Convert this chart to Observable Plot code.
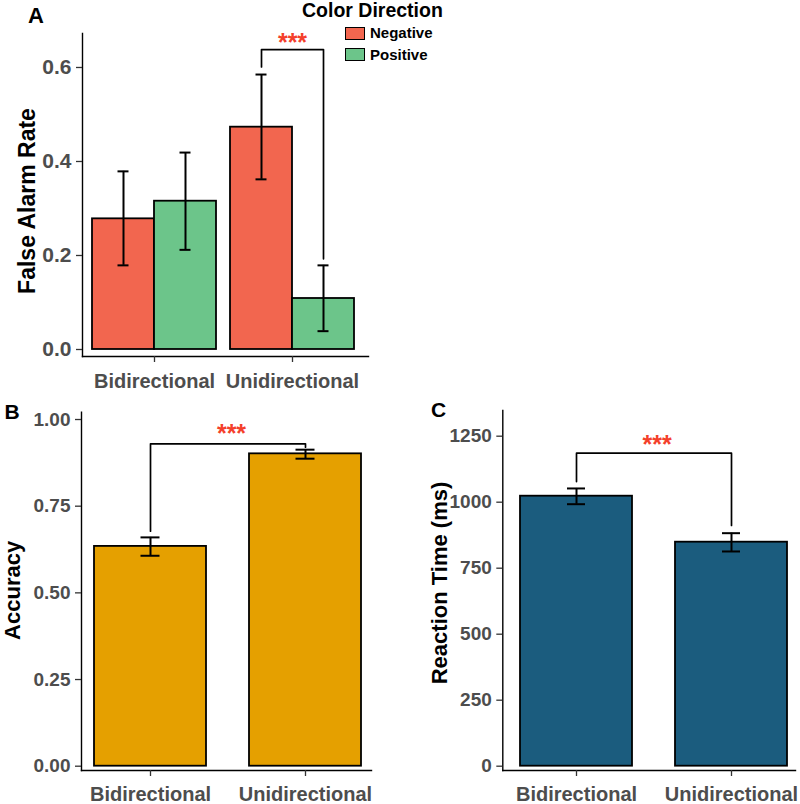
<!DOCTYPE html>
<html><head><meta charset="utf-8">
<script src="https://cdn.jsdelivr.net/npm/d3@7"></script>
<script src="https://cdn.jsdelivr.net/npm/@observablehq/plot@0.6"></script>
<style>
body{margin:0;background:#fff;}
#wrap{position:relative;width:800px;height:804px;font-family:"Liberation Sans",Arial,Helvetica,sans-serif;}
#wrap svg{position:absolute;}
.abs{position:absolute;line-height:1;font-weight:bold;white-space:nowrap;color:#000;}
.sw{position:absolute;width:20px;height:13px;box-sizing:border-box;border:1.5px solid #000;}
</style></head><body><div id="wrap"></div>
<script>
// ---- data ----
const groups = ["Bidirectional", "Unidirectional"];
const directions = ["Negative", "Positive"];
// False alarm rate, order: Bid-Neg, Bid-Pos, Uni-Neg, Uni-Pos
const farMean = [0.278, 0.3155, 0.473, 0.1085];
const farLow  = [0.179, 0.212, 0.362, 0.039];
const farHigh = [0.379, 0.419, 0.585, 0.179];
const accMean = [0.634, 0.901];
const accLow  = [0.607, 0.887];
const accHigh = [0.660, 0.913];
const rtMean = [1022.7, 848.5];
const rtLow  = [992.4, 813.3];
const rtHigh = [1052, 882.6];
const farTicks = [0, 0.2, 0.4, 0.6];
const accTicks = [0, 0.25, 0.5, 0.75, 1];
const rtTicks = [0, 250, 500, 750, 1000, 1250];
const dirColors = ["#F2664F", "#6CC58A"];
const accColor = "#E5A000";
const rtColor = "#1B5C7E";
const starColor = "#F4402B";
const sigLabel = "***";
// significance brackets (left end, top, right end) in data units
const farBracketY = [0.601, 0.638, 0.193];
const accBracketY = [0.678, 0.930, 0.920];
const rtBracketY = [1078, 1185.6, 912];
const farStarY = 0.652, accStarY = 0.958, rtStarY = 1217;

// ---- tables ----
const farRows = [];
groups.forEach((g, i) => directions.forEach((d, j) => {
  const k = i * 2 + j;
  farRows.push({group: g, dir: d, mean: farMean[k], lo: farLow[k], hi: farHigh[k]});
}));
const accRows = groups.map((g, i) => ({group: g, mean: accMean[i], lo: accLow[i], hi: accHigh[i]}));
const rtRows = groups.map((g, i) => ({group: g, mean: rtMean[i], lo: rtLow[i], hi: rtHigh[i]}));
const farBracket = [
  {group: groups[1], x: directions[0], y: farBracketY[0]},
  {group: groups[1], x: directions[0], y: farBracketY[1]},
  {group: groups[1], x: directions[1], y: farBracketY[1]},
  {group: groups[1], x: directions[1], y: farBracketY[2]}
];
const mkBracket = (ys) => [
  {x: groups[0], y: ys[0]}, {x: groups[0], y: ys[1]},
  {x: groups[1], y: ys[1]}, {x: groups[1], y: ys[2]}
];
const accBracket = mkBracket(accBracketY);
const rtBracket = mkBracket(rtBracketY);

const font = '"Liberation Sans", Arial, Helvetica, sans-serif';
const tickFill = "#4d4d4d";
const yAxisStyle = {tickSize: 6, tickPadding: 5, fontSize: 19, fontWeight: "bold", fill: tickFill, stroke: "#333", strokeWidth: 1.3, label: null};
const xAxisStyle = {anchor: "bottom", tickSize: 6, tickPadding: 10, fontSize: 20, fontWeight: "bold", fill: tickFill, stroke: "#333", strokeWidth: 1.3, label: null};
const titleStyle = {frameAnchor: "left", rotate: -90, textAnchor: "middle", lineAnchor: "middle", fontSize: 22, fontWeight: "bold", fill: "#000", text: d => d};
const starStyle = {text: d => sigLabel, fontSize: 25, fontWeight: "bold", fill: starColor};

const wrap = document.getElementById("wrap");

// ---- Panel A (faceted by group; the axis frame extends past the facet bands) ----
const plotA = Plot.plot({
  width: 450, height: 400,
  marginLeft: 92, marginRight: 95, marginTop: 33, marginBottom: 44,
  style: {fontFamily: font, background: "transparent", overflow: "visible"},
  fx: {domain: groups, paddingInner: 0.101, paddingOuter: 0, label: null},
  x: {domain: directions, padding: 0, axis: null},
  y: {domain: [-0.0149, 0.6723]},
  color: {domain: directions, range: dirColors},
  marks: [
    Plot.frame({anchor: "left", facet: "super", insetLeft: -10, strokeWidth: 1.4}),
    Plot.frame({anchor: "bottom", facet: "super", insetLeft: -10, insetRight: -14, strokeWidth: 1.4}),
    Plot.axisY(farTicks, {dx: -10, tickFormat: d3.format(".1f"), ...yAxisStyle, fontSize: 21}),
    Plot.axisFx({...xAxisStyle, tickPadding: 11}),
    Plot.barY(farRows, {fx: "group", x: "dir", y: "mean", fill: "dir", stroke: "#000", strokeWidth: 1.8}),
    Plot.ruleX(farRows, {fx: "group", x: "dir", y1: "lo", y2: "hi", stroke: "#000", strokeWidth: 2}),
    Plot.tickY(farRows, {fx: "group", x: "dir", y: "lo", insetLeft: 25.5, insetRight: 25.5, stroke: "#000", strokeWidth: 2}),
    Plot.tickY(farRows, {fx: "group", x: "dir", y: "hi", insetLeft: 25.5, insetRight: 25.5, stroke: "#000", strokeWidth: 2}),
    Plot.line(farBracket, {fx: "group", x: "x", y: "y", stroke: "#000", strokeWidth: 1.7}),
    Plot.text([{group: groups[1], y: farStarY}], {fx: "group", y: "y", ...starStyle}),
    Plot.text(["False Alarm Rate"], {facet: "super", dx: -65, dy: 6, ...titleStyle, fontSize: 23})
  ]
});
plotA.style.left = "0px"; plotA.style.top = "0px";
wrap.appendChild(plotA);

// ---- Panel B ----
const plotB = Plot.plot({
  width: 400, height: 404,
  marginLeft: 81, marginRight: 29, marginTop: 11.7, marginBottom: 34,
  style: {fontFamily: font, background: "transparent", overflow: "visible"},
  x: {domain: groups, range: [93.3, 360.7], paddingInner: 0.279, paddingOuter: 0},
  y: {domain: [-0.0124, 1.0211]},
  marks: [
    Plot.frame({anchor: "left", strokeWidth: 1.4}),
    Plot.frame({anchor: "bottom", strokeWidth: 1.4}),
    Plot.axisY(accTicks, {tickFormat: d3.format(".2f"), ...yAxisStyle}),
    Plot.axisX(xAxisStyle),
    Plot.barY(accRows, {x: "group", y: "mean", fill: accColor, stroke: "#000", strokeWidth: 1.8}),
    Plot.ruleX(accRows, {x: "group", y1: "lo", y2: "hi", stroke: "#000", strokeWidth: 2}),
    Plot.tickY(accRows, {x: "group", y: "lo", insetLeft: 46.5, insetRight: 46.5, stroke: "#000", strokeWidth: 2}),
    Plot.tickY(accRows, {x: "group", y: "hi", insetLeft: 46.5, insetRight: 46.5, stroke: "#000", strokeWidth: 2}),
    Plot.line(accBracket, {x: "x", y: "y", stroke: "#000", strokeWidth: 1.7}),
    Plot.text([{y: accStarY}], {y: "y", dx: 5, ...starStyle}),
    Plot.text(["Accuracy"], {dx: -69, dy: -1, ...titleStyle})
  ]
});
plotB.style.left = "0px"; plotB.style.top = "400px";
wrap.appendChild(plotB);

// ---- Panel C ----
const plotC = Plot.plot({
  width: 400, height: 404,
  marginLeft: 102.3, marginRight: 5, marginTop: 10, marginBottom: 34,
  style: {fontFamily: font, background: "transparent", overflow: "visible"},
  x: {domain: groups, range: [119.3, 387.3], paddingInner: 0.278, paddingOuter: 0},
  y: {domain: [-16.3, 1347.3]},
  marks: [
    Plot.frame({anchor: "left", strokeWidth: 1.4}),
    Plot.frame({anchor: "bottom", strokeWidth: 1.4}),
    Plot.axisY(rtTicks, {tickFormat: d3.format("d"), ...yAxisStyle}),
    Plot.axisX(xAxisStyle),
    Plot.barY(rtRows, {x: "group", y: "mean", fill: rtColor, stroke: "#000", strokeWidth: 1.8}),
    Plot.ruleX(rtRows, {x: "group", y1: "lo", y2: "hi", stroke: "#000", strokeWidth: 2}),
    Plot.tickY(rtRows, {x: "group", y: "lo", insetLeft: 47, insetRight: 47, stroke: "#000", strokeWidth: 2}),
    Plot.tickY(rtRows, {x: "group", y: "hi", insetLeft: 47, insetRight: 47, stroke: "#000", strokeWidth: 2}),
    Plot.line(rtBracket, {x: "x", y: "y", stroke: "#000", strokeWidth: 1.7}),
    Plot.text([{y: rtStarY}], {y: "y", dx: 8, ...starStyle}),
    Plot.text(["Reaction Time (ms)"], {dx: -63.3, dy: -7.5, ...titleStyle})
  ]
});
plotC.style.left = "400px"; plotC.style.top = "400px";
wrap.appendChild(plotC);

// ---- panel letters and legend ----
function addText(txt, left, top, size) {
  const d = document.createElement("div");
  d.className = "abs"; d.textContent = txt;
  d.style.left = left + "px"; d.style.top = top + "px"; d.style.fontSize = size + "px";
  wrap.appendChild(d);
}
addText("A", 28, 5.4, 22);
addText("B", 4.5, 400.6, 21);
addText("C", 431, 399, 21);
addText("Color Direction", 302, 0.8, 19.5);
directions.forEach((d, i) => {
  const sw = document.createElement("div");
  sw.className = "sw";
  sw.style.left = "345px"; sw.style.top = (26.7 + i * 21.6) + "px";
  sw.style.background = dirColors[i];
  wrap.appendChild(sw);
  addText(d, 370, 25.3 + i * 21.3, 15);
});
</script></body></html>
